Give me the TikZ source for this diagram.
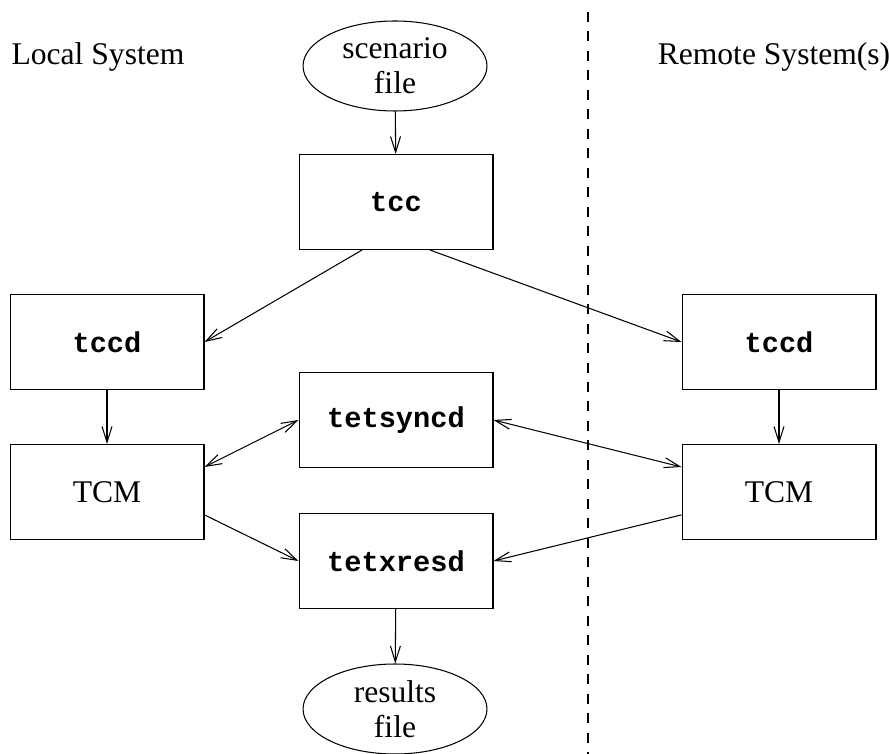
\documentclass[tikz,border=0pt]{standalone}
\usepackage{fontspec}
\setmainfont{Liberation Serif}
\setmonofont{Liberation Mono}
\usetikzlibrary{arrows.meta, shapes.geometric}

\begin{document}
\begin{tikzpicture}[
            x = 0.38pt, y = -0.38pt, % one unit is one pixel of the layout
            > = {Straight Barb[length=6pt, width=3.8pt]}, % open arrow head
            thin, % line style
            font = \fontsize{12}{13.3}\selectfont
        ]

        \tikzstyle{proc}=[
            draw = black,
            minimum width = 73.7pt,
            minimum height = 36.1pt,
            inner sep = 0pt
        ]
        \tikzstyle{daemon}=[
            proc,
            font = \fontsize{10.9}{12}\selectfont\ttfamily\bfseries
        ]
        \tikzstyle{datafile}=[
            draw = black,
            ellipse,
            minimum width = 69.9pt,
            minimum height = 34.2pt,
            inner sep = 0pt,
            align = center
        ]

        \useasboundingbox (0,0) rectangle (889,754);

	\node (local) at (98,57) {Local System};
	\node (remote) at (774,57) {Remote System(s)};
	\node[datafile] (scen) at (395,66) {scenario\\file};
	\node[daemon] (tcc) at (396,202) {tcc};
	\node[daemon] (ltccd) at (107,342) {tccd};
	\node[daemon] (rtccd) at (779,342) {tccd};
	\node[daemon] (sync) at (396,420) {tetsyncd};
	\node[proc] (ltcm) at (107,492) {TCM};
	\node[proc] (rtcm) at (779,492) {TCM};
	\node[daemon] (xres) at (396,561) {tetxresd};
	\node[datafile] (res) at (395,709) {results\\file};

	\coordinate (top) at (588,12);
	\coordinate (bottom) at (588,754);
	\draw[dash pattern=on 3.8pt off 3.6pt] (top) -- (bottom);

        \path[->] (scen) edge (tcc);
        \path[->] ([xshift=-12.9pt]tcc.south) edge (ltccd.east);
        \path[->] ([xshift=12.9pt]tcc.south) edge (rtccd.west);
        \path[->] (ltccd) edge (ltcm);
        \path[->] (rtccd) edge (rtcm);
        \path[<->] ([yshift=9.5pt]ltcm.east) edge (sync.west);
        \path[<->] (sync.east) edge ([yshift=9.5pt]rtcm.west);
        \path[->] ([yshift=-8.7pt]ltcm.east) edge (xres.west);
        \path[->] ([yshift=-8.7pt]rtcm.west) edge (xres.east);
        \path[->] (xres) edge (res);

    \end{tikzpicture}
\end{document}
